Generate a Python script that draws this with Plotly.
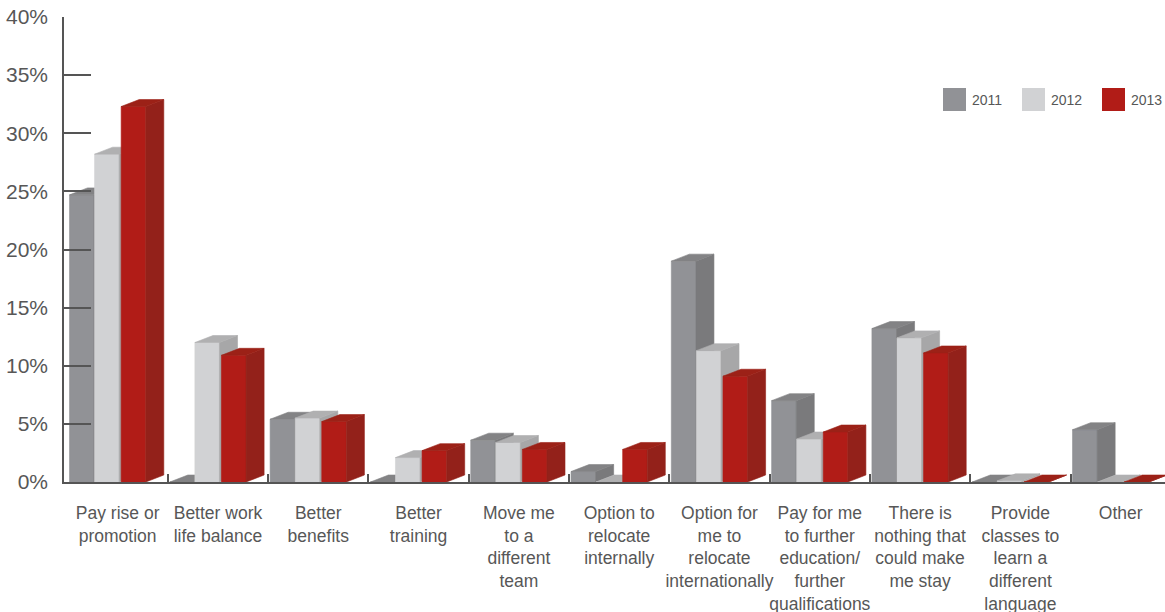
import plotly.graph_objects as go

# Reasons that would make employees stay, share of respondents (%)
categories = [
    "Pay rise or<br>promotion",
    "Better work<br>life balance",
    "Better<br>benefits",
    "Better<br>training",
    "Move me<br>to a<br>different<br>team",
    "Option to<br>relocate<br>internally",
    "Option for<br>me to<br>relocate<br>internationally",
    "Pay for me<br>to further<br>education/<br>further<br>qualifications",
    "There is<br>nothing that<br>could make<br>me stay",
    "Provide<br>classes to<br>learn a<br>different<br>language",
    "Other",
]
years = ["2011", "2012", "2013"]
share_2011 = [24.7, 0.0, 5.4, 0.0, 3.6, 0.9, 19.0, 7.0, 13.2, 0.0, 4.5]
share_2012 = [28.2, 12.0, 5.5, 2.1, 3.4, 0.0, 11.3, 3.7, 12.4, 0.1, 0.0]
share_2013 = [32.3, 10.9, 5.2, 2.7, 2.8, 2.8, 9.1, 4.3, 11.1, 0.0, 0.0]
y_ticks = [0, 5, 10, 15, 20, 25, 30, 35, 40]
y_tick_labels = [f"{v}%" for v in y_ticks]

series = dict(zip(years, [share_2011, share_2012, share_2013]))

# Pseudo-3D bar geometry (x in category units, y in percent)
BAR_W = 0.245
OFFSET = {"2011": -0.48, "2012": -0.23, "2013": 0.035}
DEPTH_X = 0.18
DEPTH_Y = 0.6

COLORS = {
    "2011": {"front": "#919296", "top": "#838385", "side": "#7a7a7c"},
    "2012": {"front": "#d1d2d4", "top": "#b0b0b1", "side": "#a7a7a8"},
    "2013": {"front": "#b11c17", "top": "#9c2117", "side": "#93211a"},
}

TEXT = "#575757"
AXIS = "#555555"
FONT = "Liberation Sans, Arial, sans-serif"

fig = go.Figure()

for year in years:
    values = series[year]
    faces = {"side": ([], []), "front": ([], []), "top": ([], [])}
    for i, v in enumerate(values):
        x0 = i + OFFSET[year]
        x1 = x0 + BAR_W
        fx, fy = faces["front"]
        fx += [x0, x1, x1, x0, x0, None]
        fy += [0, 0, v, v, 0, None]
        sx, sy = faces["side"]
        sx += [x1, x1 + DEPTH_X, x1 + DEPTH_X, x1, x1, None]
        sy += [0, DEPTH_Y, v + DEPTH_Y, v, 0, None]
        tx, ty = faces["top"]
        tx += [x0, x1, x1 + DEPTH_X, x0 + DEPTH_X, x0, None]
        ty += [v, v, v + DEPTH_Y, v + DEPTH_Y, v, None]
    for face in ["front", "side", "top"]:
        xs, ys = faces[face]
        fig.add_trace(go.Scatter(
            x=xs, y=ys, mode="lines", fill="toself",
            fillcolor=COLORS[year][face],
            line=dict(color=COLORS[year][face], width=0.6),
            hoverinfo="skip", showlegend=False, name=f"{year} {face}",
        ))

# Plot-area placement (pixels) used for the legend boxes
L, R, T, B = 64, 1165, 17, 482
def px_x(p):
    return (p - L) / (R - L)
def px_y(p):
    return (B - p) / (B - T)

shapes = []
annotations = []
legend_left = {"2011": 943, "2012": 1022, "2013": 1102}
for year in years:
    x0 = legend_left[year]
    shapes.append(dict(
        type="rect", xref="paper", yref="paper",
        x0=px_x(x0), x1=px_x(x0 + 23), y0=px_y(111), y1=px_y(88),
        fillcolor=COLORS[year]["front"], line=dict(width=0),
    ))
    annotations.append(dict(
        xref="paper", yref="paper", x=px_x(x0 + 27), y=px_y(100),
        text=year, showarrow=False, xanchor="left", yanchor="middle",
        font=dict(family=FONT, size=14, color=TEXT),
    ))

fig.update_layout(
    width=1165, height=612,
    margin=dict(l=L, r=0, t=T, b=612 - B, pad=0, autoexpand=False),
    paper_bgcolor="white", plot_bgcolor="white",
    showlegend=False,
    shapes=shapes, annotations=annotations,
    xaxis=dict(
        range=[-0.535, 10.442],
        tickmode="array", tickvals=list(range(len(categories))), ticktext=categories,
        tickangle=0, automargin=False,
        ticks="", showgrid=False, zeroline=False,
        showline=True, linecolor=AXIS, linewidth=1.5,
        tickfont=dict(family=FONT, size=17.5, color=TEXT),
        ticklabelstandoff=14,
        minor=dict(
            tickmode="array", tickvals=[i + 0.5 for i in range(len(categories) - 1)],
            ticks="inside", ticklen=8, tickwidth=1.5, tickcolor=AXIS, showgrid=False,
        ),
        fixedrange=True,
    ),
    yaxis=dict(
        range=[0, 40],
        tickmode="array", tickvals=y_ticks, ticktext=y_tick_labels,
        ticks="inside", ticklen=27, tickwidth=1.5, tickcolor=AXIS,
        showgrid=False, zeroline=False, automargin=False,
        showline=True, linecolor=AXIS, linewidth=1.5,
        tickfont=dict(family=FONT, size=21, color=TEXT),
        ticklabelstandoff=10,
        fixedrange=True,
    ),
)

fig.write_html("out.html")
